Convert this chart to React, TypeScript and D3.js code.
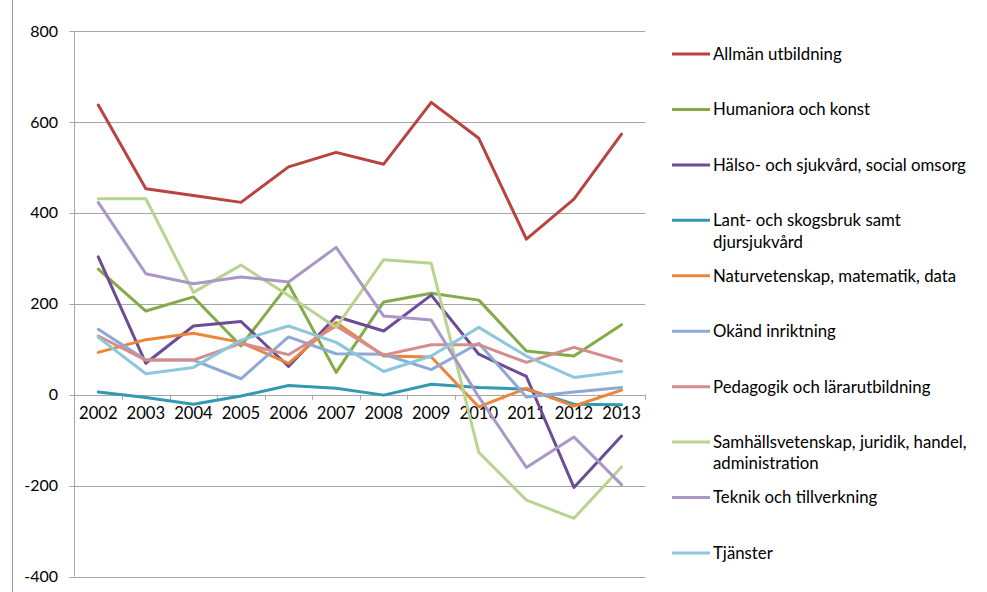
import React from "react";
import * as d3 from "d3";

const years = ["2002","2003","2004","2005","2006","2007","2008","2009","2010","2011","2012","2013"];
const yTicks = [-400, -200, 0, 200, 400, 600, 800];

const seriesNames = [
  "Allmän utbildning",
  "Humaniora och konst",
  "Hälso- och sjukvård, social omsorg",
  "Lant- och skogsbruk samt djursjukvård",
  "Naturvetenskap, matematik, data",
  "Okänd inriktning",
  "Pedagogik och lärarutbildning",
  "Samhällsvetenskap, juridik, handel, administration",
  "Teknik och tillverkning",
  "Tjänster",
];
const seriesColors = ["#B8433F","#84AB48","#6C4C94","#3399B0","#EB853A","#8FA9D6","#D68C8B","#B9D48F","#A998C5","#8CC8DC"];

const allman = [637, 453, 438, 423, 501, 533, 507, 643, 564, 342, 430, 573];
const humaniora = [276, 184, 215, 107, 243, 49, 204, 223, 208, 96, 85, 154];
const halso = [303, 69, 151, 161, 62, 172, 140, 219, 89, 40, -204, -91];
const lant = [6, -6, -21, -3, 20, 14, -1, 23, 16, 12, -21, -22];
const naturvetenskap = [93, 121, 135, 115, 69, 159, 85, 83, -27, 14, -25, 10];
const okand = [144, 76, 76, 35, 127, 90, 89, 55, 113, -5, 6, 16];
const pedagogik = [129, 76, 76, 113, 88, 151, 87, 110, 110, 71, 104, 74];
const samhalls = [431, 431, 225, 285, 218, 148, 297, 289, -127, -232, -272, -159];
const teknik = [423, 266, 244, 259, 248, 324, 173, 164, -5, -160, -93, -198];
const tjanster = [126, 46, 60, 120, 151, 115, 51, 85, 148, 85, 38, 51];

const seriesValues = [allman, humaniora, halso, lant, naturvetenskap, okand, pedagogik, samhalls, teknik, tjanster];

const W = 987, H = 592;
const FONT = "Lato, 'Open Sans', sans-serif";

function wrap(name: string, max: number): string[] {
  const words = name.split(" ");
  const lines: string[] = [];
  let cur = "";
  for (const w of words) {
    const cand = cur ? cur + " " + w : w;
    if (cand.length > max && cur) { lines.push(cur); cur = w; } else cur = cand;
  }
  if (cur) lines.push(cur);
  return lines;
}

export default function App() {
  const x = d3.scaleBand<string>().domain(years).range([74.5, 645.3]);
  const y = d3.scaleLinear().domain([-400, 800]).range([576.5, 31]);
  const cx = (yr: string) => (x(yr) as number) + x.bandwidth() / 2;
  const line = d3.line<number>().x((_, i) => cx(years[i])).y(d => y(d));
  const grid = "#A6A6A6";
  const legendY = d3.scaleLinear().domain([0, 9]).range([54, 553]);

  return (
    <svg width={W} height={H} style={{ position: "absolute", left: 0, top: 0, background: "#fff" }} fontFamily={FONT}>
      <line x1={12.5} x2={12.5} y1={0} y2={H} stroke="#999" strokeWidth={1} />
      {yTicks.map(t => (
        <g key={t}>
          <line x1={69.5} x2={645.3} y1={Math.round(y(t)) + 0.5} y2={Math.round(y(t)) + 0.5} stroke={grid} strokeWidth={1} />
          <text x={58} y={y(t)} dy="0.35em" textAnchor="end" fontSize={16} fill="#000">{t}</text>
        </g>
      ))}
      <line x1={74.5} x2={74.5} y1={y(800)} y2={y(-400)} stroke={grid} strokeWidth={1} />
      {years.map((yr, i) => (
        <g key={yr}>
          <line x1={Math.round((x(yr) as number) + x.bandwidth()) + 0.5} x2={Math.round((x(yr) as number) + x.bandwidth()) + 0.5}
            y1={y(0)} y2={y(0) + 5} stroke={grid} strokeWidth={1} />
          <text x={cx(yr)} y={y(0) + 24.5} textAnchor="middle" fontSize={16.6} fill="#000">{yr}</text>
        </g>
      ))}
      {seriesValues.map((vals, i) => (
        <path key={i} d={line(vals) as string} fill="none" stroke={seriesColors[i]} strokeWidth={3} strokeLinejoin="round" strokeLinecap="round" />
      ))}
      {seriesNames.map((name, i) => {
        const ly = legendY(i);
        const lines = wrap(name, 35);
        return (
          <g key={name}>
            <line x1={672} x2={710} y1={ly} y2={ly} stroke={seriesColors[i]} strokeWidth={3} />
            {lines.map((l, j) => (
              <text key={j} x={713} y={ly + j * 21.5} dy="0.35em" fontSize={16.8} fill="#000">{l}</text>
            ))}
          </g>
        );
      })}
    </svg>
  );
}
